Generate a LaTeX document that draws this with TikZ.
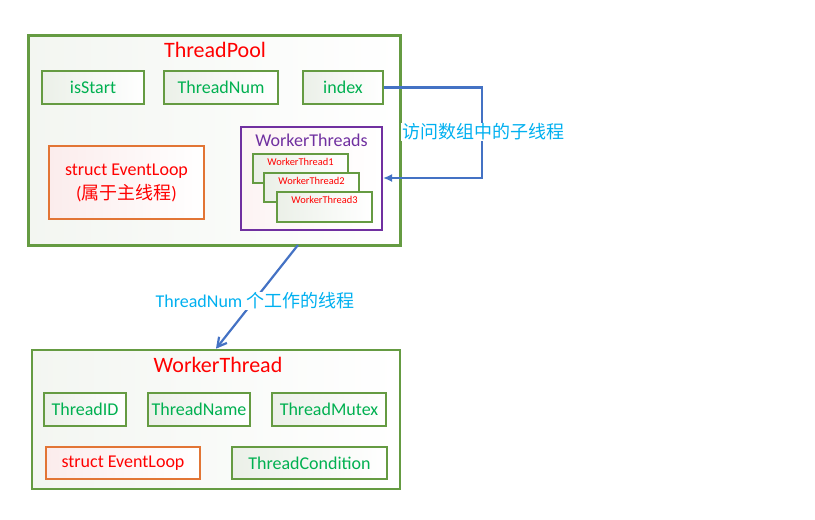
\documentclass[tikz,border=0pt]{standalone}
\usepackage{fontspec}
\setmainfont{Carlito}
\newfontfamily\cjk{Noto Sans CJK SC}
\usetikzlibrary{arrows.meta}
\definecolor{gline}{HTML}{659B42}
\definecolor{gtext}{HTML}{00B050}
\definecolor{rtext}{HTML}{FF0000}
\definecolor{oline}{HTML}{E27535}
\definecolor{pline}{HTML}{7030A0}
\definecolor{bline}{HTML}{4472C4}
\definecolor{ctext}{HTML}{00B0F0}
\definecolor{gfill}{HTML}{EBF0E8}
\definecolor{rfill}{HTML}{FBECEC}
\tikzset{
  outerbox/.style={draw=gline, line width=2.6pt, left color=gfill!60, right color=white, inner sep=0pt},
  fieldbox/.style={draw=gline, line width=2pt, left color=gfill, right color=white, inner sep=0pt, text=gtext, font=\fontsize{18}{22}\selectfont},
  loopbox/.style={draw=oline, line width=2pt, left color=rfill, right color=white, inner sep=0pt, text=rtext, font=\fontsize{18}{24}\selectfont, align=center},
  wtbox/.style={draw=gline, line width=2pt, left color=gfill, right color=white, inner sep=0pt},
  wttext/.style={text=rtext, font=\fontsize{10.4}{12}\selectfont, inner sep=0pt},
  titletext/.style={text=rtext, font=\fontsize{22}{26}\selectfont, inner sep=0pt},
  arrowline/.style={draw=bline, line width=2.2pt},
  captext/.style={text=ctext, font=\fontsize{18}{22}\selectfont, fill=white, inner sep=1pt}
}
\begin{document}
\begin{tikzpicture}[x=1pt,y=-1pt]
\useasboundingbox (0,0) rectangle (815,520);
% ThreadPool
\node[outerbox, minimum width=372pt, minimum height=210pt] (pool) at (214.5,140.5) {};
\node[titletext] (pooltitle) at (215,50) {ThreadPool};
\node[fieldbox, minimum width=102pt, minimum height=33pt] (isstart) at (93,87.5) {isStart};
\node[fieldbox, minimum width=114pt, minimum height=33pt] (tnum) at (221,87.5) {ThreadNum};
\node[fieldbox, minimum width=80pt, minimum height=33pt] (index) at (343,87.5) {index};
\node[loopbox, minimum width=155pt, minimum height=73pt] (mainloop) at (126.5,182.5) {struct EventLoop\\({\cjk 属于主线程})};
% WorkerThreads
\node[draw=pline, line width=2pt, left color=rfill!60, right color=white, minimum width=141pt, minimum height=103pt, inner sep=0pt] (wts) at (311.5,178.5) {};
\node[text=pline, font=\fontsize{18}{22}\selectfont, inner sep=0pt] (wtstitle) at (311.5,140) {WorkerThreads};
\node[wtbox, minimum width=95pt, minimum height=29pt] (wt1) at (300.5,168.5) {};
\node[wttext] (wt1t) at (300.5,162) {WorkerThread1};
\node[wtbox, minimum width=95pt, minimum height=29pt] (wt2) at (311.5,187.5) {};
\node[wttext] (wt2t) at (311.5,181) {WorkerThread2};
\node[wtbox, minimum width=95pt, minimum height=30pt] (wt3) at (324.5,207) {};
\node[wttext] (wt3t) at (324.5,200) {WorkerThread3};
% index -> WorkerThreads
\coordinate (c1) at (482,87.5);
\coordinate (c2) at (482,178);
\draw[arrowline, -{Latex[length=9pt,width=8pt]}] (index.east) -- (c1) -- (c2) -- (wts.east |- c2);
\node[captext] (cap1) at (483,132) {\cjk 访问数组中的子线程};
% WorkerThread
\node[outerbox, minimum width=368pt, minimum height=139pt] (wt) at (216,419.5) {};
\node[titletext] (wttitle) at (218,365) {WorkerThread};
\node[fieldbox, minimum width=82pt, minimum height=33pt] (tid) at (85,409.5) {ThreadID};
\node[fieldbox, minimum width=102pt, minimum height=33pt] (tname) at (199,409.5) {ThreadName};
\node[fieldbox, minimum width=114pt, minimum height=33pt] (tmutex) at (329,409.5) {ThreadMutex};
\node[loopbox, minimum width=154pt, minimum height=32pt] (wloop) at (123,463) {struct EventLoop};
\node[fieldbox, minimum width=155pt, minimum height=32pt] (tcond) at (309.5,463) {ThreadCondition};
% pool -> worker
\coordinate (p0) at (298,245);
\draw[arrowline, -{Straight Barb[length=9pt,width=10pt]}] (p0) -- (wt.north -| 216,0);
\node[captext] (cap2) at (255,301) {ThreadNum {\cjk 个工作的线程}};
\end{tikzpicture}
\end{document}
